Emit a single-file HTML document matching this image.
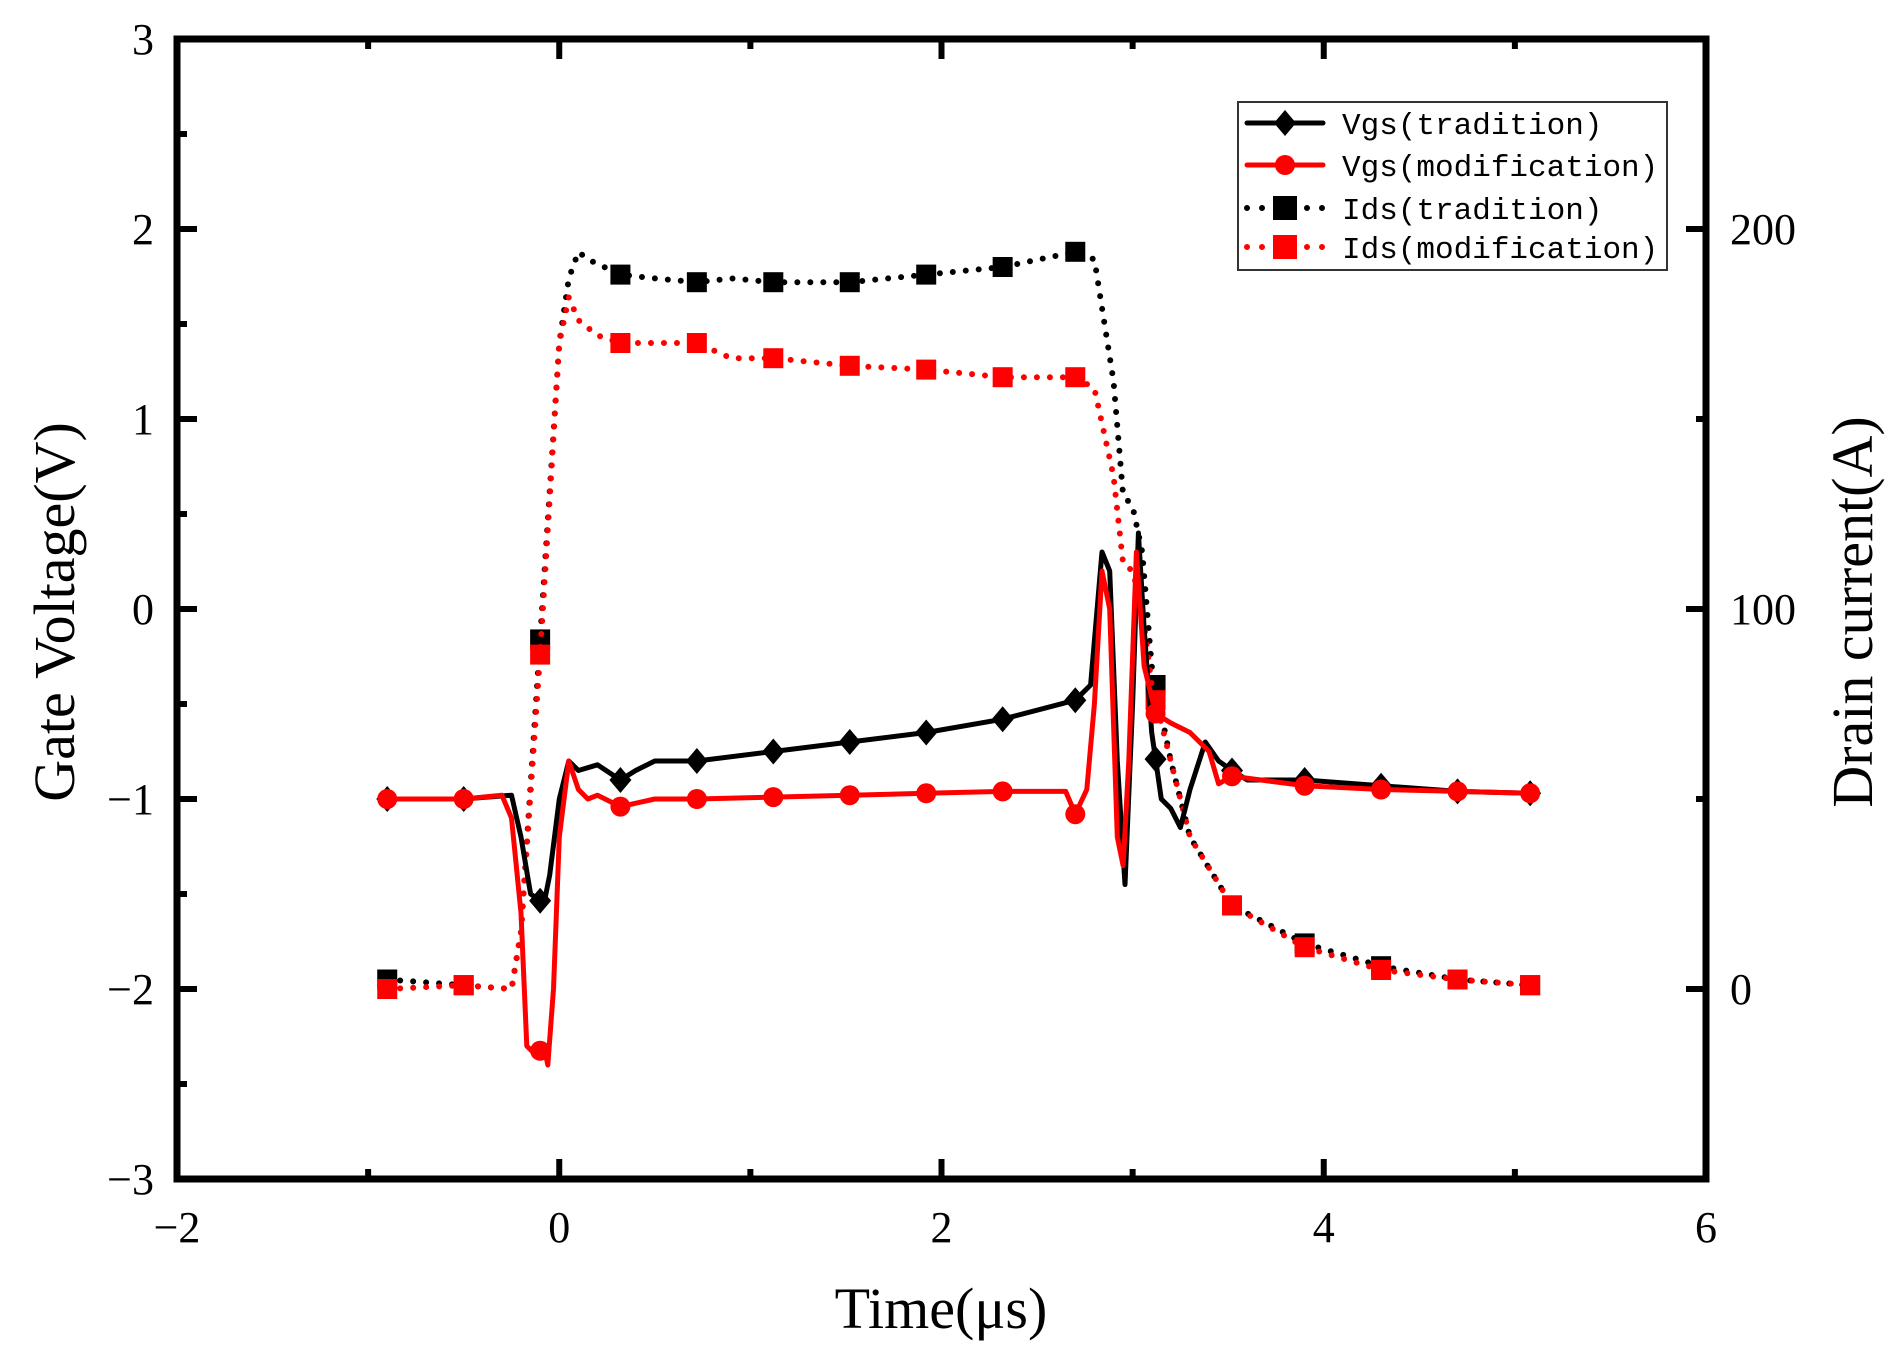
<!DOCTYPE html>
<html><head><meta charset="utf-8"><style>
html,body{margin:0;padding:0;background:#fff;}
svg{display:block;}
text{font-family:"Liberation Serif",serif;fill:#000;}
</style></head><body>
<svg id="chart" width="1898" height="1363" viewBox="0 0 1898 1363" xmlns="http://www.w3.org/2000/svg">
<g id="plot"></g>
</svg>
<script>
// ---- data ----
const vtX = [-0.9,-0.5,-0.25,-0.2,-0.15,-0.08,-0.05,0.0,0.05,0.1,0.2,0.32,0.4,0.5,0.72,1.12,1.52,1.92,2.32,2.7,2.78,2.84,2.88,2.92,2.96,3.0,3.03,3.06,3.1,3.15,3.2,3.25,3.3,3.38,3.45,3.52,3.6,3.9,4.3,4.7,5.08];
const vtY = [-1.0,-1.0,-0.98,-1.2,-1.5,-1.55,-1.4,-1.0,-0.8,-0.85,-0.82,-0.9,-0.85,-0.8,-0.8,-0.75,-0.7,-0.65,-0.58,-0.48,-0.4,0.3,0.2,-0.8,-1.45,-0.5,0.4,-0.1,-0.65,-1.0,-1.05,-1.15,-0.95,-0.7,-0.8,-0.85,-0.9,-0.9,-0.93,-0.96,-0.97];
const vmX = [-0.9,-0.5,-0.3,-0.25,-0.2,-0.17,-0.12,-0.08,-0.06,-0.03,0.0,0.05,0.1,0.15,0.2,0.32,0.5,0.72,1.12,1.52,1.92,2.32,2.65,2.7,2.76,2.8,2.84,2.88,2.92,2.95,2.98,3.02,3.06,3.12,3.2,3.3,3.4,3.45,3.52,3.9,4.3,4.7,5.08];
const vmY = [-1.0,-1.0,-0.98,-1.1,-1.6,-2.3,-2.35,-2.3,-2.4,-2.0,-1.2,-0.8,-0.95,-1.0,-0.98,-1.04,-1.0,-1.0,-0.99,-0.98,-0.97,-0.96,-0.96,-1.08,-0.95,-0.5,0.2,0.0,-1.2,-1.35,-0.8,0.3,-0.3,-0.55,-0.6,-0.65,-0.75,-0.92,-0.88,-0.93,-0.95,-0.96,-0.97];
const itX = [-0.9,-0.5,-0.25,-0.2,-0.1,0.0,0.05,0.1,0.15,0.32,0.5,0.72,0.9,1.12,1.52,1.92,2.32,2.7,2.8,2.9,2.95,3.0,3.05,3.1,3.2,3.3,3.52,3.9,4.3,4.7,5.08];
const itY = [2.5,1,0,15,92,170,187,194,192,188,187,186,187,186,186,188,190,194,192,160,130,127,115,85,60,40,22,12,6,2.5,1];
const imX = [-0.9,-0.5,-0.25,-0.2,-0.1,0.0,0.05,0.1,0.2,0.32,0.5,0.72,0.9,1.12,1.52,1.92,2.32,2.7,2.8,2.9,2.95,3.0,3.05,3.1,3.2,3.3,3.52,3.9,4.3,4.7,5.08];
const imY = [0,1,0,15,88,170,182,176,172,170,170,170,166,166,164,163,161,161,158,135,112,110,100,80,60,40,22,11,5,2.5,1];
const markerX = [-0.9,-0.5,-0.1,0.32,0.72,1.12,1.52,1.92,2.32,2.7,3.12,3.52,3.9,4.3,4.7,5.08];
const xTicks = [-2,0,2,4,6];
const yTicks = [-3,-2,-1,0,1,2,3];
const yTickLabels = ["\u22123","\u22122","\u22121","0","1","2","3"];
const rTicks = [0,100,200];

// ---- layout ----
const L=177,R=1706,T=39,B=1179;
const NS="http://www.w3.org/2000/svg";
const g=document.getElementById('plot');
const sx=v=>L+(v+2)/8*(R-L);
const sy=v=>B-(v+3)/6*(B-T);
const sr=a=>B-(a+50)/300*(B-T);
function el(tag,attrs,parent){const e=document.createElementNS(NS,tag);for(const k in attrs)e.setAttribute(k,attrs[k]);(parent||g).appendChild(e);return e;}
function interp(xs,ys,x){for(let i=0;i<xs.length-1;i++){if(x>=xs[i]&&x<=xs[i+1]){const t=(x-xs[i])/(xs[i+1]-xs[i]);return ys[i]+t*(ys[i+1]-ys[i]);}}return x<xs[0]?ys[0]:ys[ys.length-1];}

// ticks
for(let v=-2;v<=6;v+=1){const maj=v%2===0;const len=maj?20:10;
 let t=el('line',{x1:sx(v),x2:sx(v),y1:B,y2:B-len,stroke:'#000','stroke-width':6});
 
 let t2=el('line',{x1:sx(v),x2:sx(v),y1:T,y2:T+len,stroke:'#000','stroke-width':6});
 }
xTicks.forEach(v=>{const t=el('text',{x:sx(v),y:1242,'text-anchor':'middle','font-size':44});t.textContent=v<0?'\u2212'+(-v):String(v);
 });
for(let v=-3;v<=3;v+=0.5){const maj=Number.isInteger(v);const len=maj?20:10;
 const t=el('line',{x1:L,x2:L+len,y1:sy(v),y2:sy(v),stroke:'#000','stroke-width':6});
 }
yTicks.forEach((v,i)=>{const t=el('text',{x:154,y:sy(v)+15,'text-anchor':'end','font-size':44});t.textContent=yTickLabels[i];
 });
for(let a=-50;a<=250;a+=50){const maj=a%100===0;const len=maj?20:10;
 const t=el('line',{x1:R,x2:R-len,y1:sr(a),y2:sr(a),stroke:'#000','stroke-width':6});
 }
rTicks.forEach(a=>{const t=el('text',{x:1730,y:sr(a)+15,'font-size':44});t.textContent=String(a);
 });

// frame
const fr=el('rect',{x:L,y:T,width:R-L,height:B-T,fill:'none',stroke:'#000','stroke-width':7});


// titles
let tt=el('text',{x:941,y:1328,'text-anchor':'middle','font-size':58});tt.textContent='Time(\u03bcs)';

tt=el('text',{x:0,y:0,'text-anchor':'middle','font-size':58,transform:'translate(74,612) rotate(-90)'});tt.textContent='Gate Voltage(V)';

tt=el('text',{x:0,y:0,'text-anchor':'middle','font-size':58,transform:'translate(1872,612) rotate(-90)'});tt.textContent='Drain current(A)';


// series
function path(xs,ys,scaleY,color,dotted,name){
 const d=xs.map((x,i)=>(i?'L':'M')+sx(x).toFixed(1)+','+scaleY(ys[i]).toFixed(1)).join('');
 const p=el('path',{d:d,fill:'none',stroke:color,'stroke-width':dotted?6:5,'stroke-linecap':'round','stroke-linejoin':'round'});
 if(dotted)p.setAttribute('stroke-dasharray','0 13');
 }
function markers(xs,ys,scaleY,color,shape,name){
 markerX.forEach(mx=>{const cx=sx(mx),cy=scaleY(interp(xs,ys,mx));let m;
  if(shape==='diamond')m=el('polygon',{points:`${cx},${cy-13} ${cx+11},${cy} ${cx},${cy+13} ${cx-11},${cy}`,fill:color});
  else if(shape==='circle')m=el('circle',{cx:cx,cy:cy,r:10,fill:color});
  else m=el('rect',{x:cx-10,y:cy-10,width:20,height:20,fill:color});
  });}
path(itX,itY,sr,'#000',true,'ids-tradition-line');
markers(itX,itY,sr,'#000','square','ids-tradition-marker');
path(imX,imY,sr,'#f00',true,'ids-modification-line');
markers(imX,imY,sr,'#f00','square','ids-modification-marker');
path(vtX,vtY,sy,'#000',false,'vgs-tradition-line');
markers(vtX,vtY,sy,'#000','diamond','vgs-tradition-marker');
path(vmX,vmY,sy,'#f00',false,'vgs-modification-line');
markers(vmX,vmY,sy,'#f00','circle','vgs-modification-marker');

// legend
const lg=el('g',{});
el('rect',{x:1238,y:102,width:429,height:168,fill:'#fff',stroke:'#333','stroke-width':2},lg);
const labels=['Vgs(tradition)','Vgs(modification)','Ids(tradition)','Ids(modification)'];
const colors=['#000','#f00','#000','#f00'];
const shapes=['diamond','circle','square','square'];
const rowsY=[123,165,208,247];
labels.forEach((lab,i)=>{const y=rowsY[i],c=colors[i];const en=el('g',{},lg);
 
 const ln=el('line',{x1:1247,x2:1323,y1:y,y2:y,stroke:c,'stroke-width':i<2?5:6,'stroke-linecap':'round'},en);
 if(i>=2)ln.setAttribute('stroke-dasharray','0 15');
 const cx=1285;
 if(shapes[i]==='diamond')el('polygon',{points:`${cx},${y-13} ${cx+11},${y} ${cx},${y+13} ${cx-11},${y}`,fill:c},en);
 else if(shapes[i]==='circle')el('circle',{cx:cx,cy:y,r:10,fill:c},en);
 else el('rect',{x:cx-12,y:y-12,width:24,height:24,fill:c},en);
 const t=el('text',{x:1342,y:y+11,'font-size':31,style:'font-family:"Liberation Mono",monospace'},en);t.textContent=lab;});
</script>
</body></html>
